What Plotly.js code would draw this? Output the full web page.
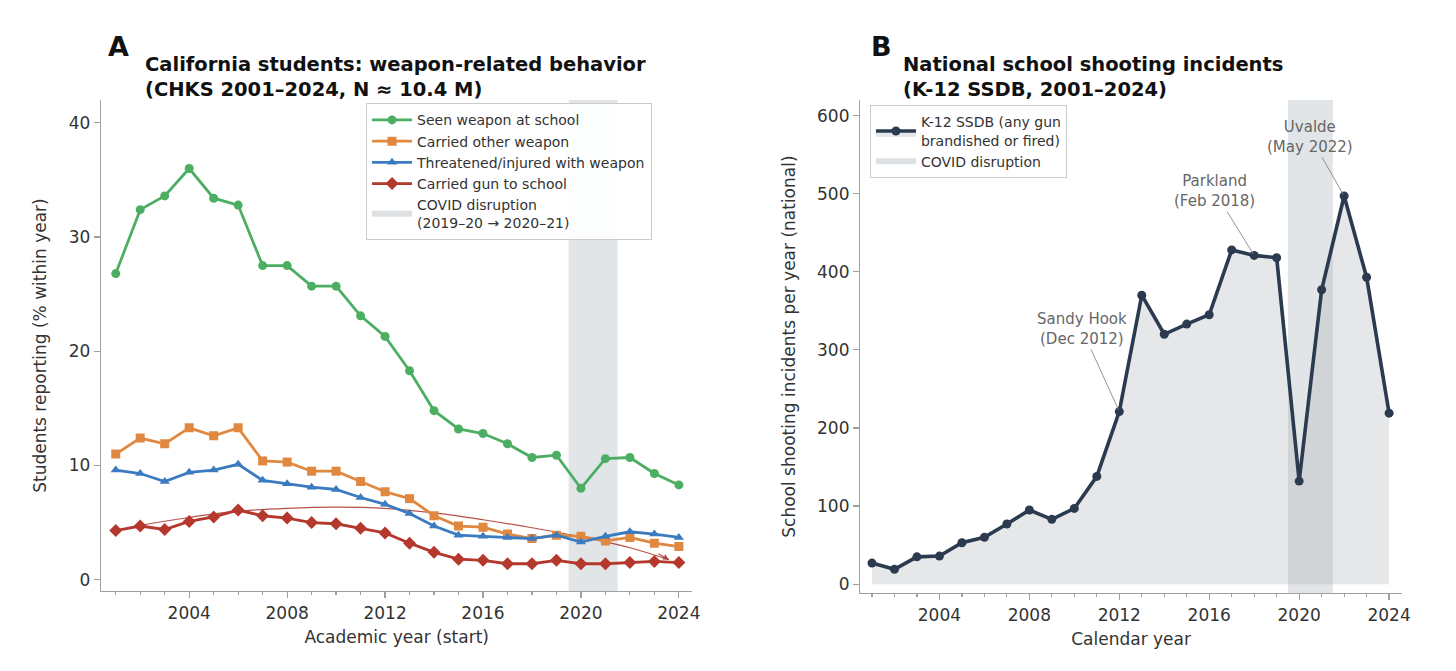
<!DOCTYPE html>
<html>
<head>
<meta charset="utf-8">
<script src="https://cdn.plot.ly/plotly-3.0.1.min.js"></script>
<style>html,body{margin:0;padding:0;background:#fff}#chart{width:1456px;height:671px}</style>
</head>
<body>
<div id="chart"></div>
<script>
// ---- Panel A data (CHKS, % of students) ----
const yearsA = [2001,2002,2003,2004,2005,2006,2007,2008,2009,2010,2011,2012,2013,2014,2015,2016,2017,2018,2019,2020,2021,2022,2023,2024];
const seenWeapon   = [26.8,32.4,33.6,36.0,33.4,32.8,27.5,27.5,25.7,25.7,23.1,21.3,18.3,14.8,13.2,12.8,11.9,10.7,10.9,8.0,10.6,10.7,9.3,8.3];
const carriedOther = [11.0,12.4,11.9,13.3,12.6,13.3,10.4,10.3,9.5,9.5,8.6,7.7,7.1,5.6,4.7,4.6,4.0,3.6,3.9,3.8,3.4,3.7,3.2,2.9];
const threatened   = [9.6,9.3,8.6,9.4,9.6,10.1,8.7,8.4,8.1,7.9,7.2,6.6,5.8,4.7,3.9,3.8,3.7,3.6,3.9,3.3,3.8,4.2,4.0,3.7];
const carriedGun   = [4.3,4.7,4.4,5.1,5.5,6.1,5.6,5.4,5.0,4.9,4.5,4.1,3.2,2.4,1.8,1.7,1.4,1.4,1.7,1.4,1.4,1.5,1.6,1.5];
// curved trend arrow over "carried gun"
const trendX = [2001,2002,2004,2006,2008,2010,2012,2014,2016,2018,2020,2022,2023.6];
const trendY = [4.3,4.75,5.45,6.0,6.25,6.35,6.25,5.85,5.25,4.55,3.75,2.8,1.75];
const namesA = ["Seen weapon at school","Carried other weapon","Threatened/injured with weapon","Carried gun to school"];
const covidA = [2019.5, 2021.5];

// ---- Panel B data (K-12 SSDB incidents per year) ----
const yearsB = [2001,2002,2003,2004,2005,2006,2007,2008,2009,2010,2011,2012,2013,2014,2015,2016,2017,2018,2019,2020,2021,2022,2023,2024];
const incidents = [27,19,35,36,53,60,77,95,83,97,138,221,370,320,333,345,428,421,418,132,377,497,393,219];
const covidB = [2019.5, 2021.5];
const events = [
  {label:"Sandy Hook<br>(Dec 2012)", year:2012, value:221, tx:2010.33, ty:327},
  {label:"Parkland<br>(Feb 2018)",  year:2018, value:421, tx:2016.24, ty:503},
  {label:"Uvalde<br>(May 2022)",    year:2022, value:497, tx:2020.5,  ty:573}
];

const FONT = "DejaVu Sans, Liberation Sans, sans-serif";
const colorsA = ["#4cae62","#e0883f","#3b7bc0","#b5382d"];
const symbolsA = ["circle","square","triangle-up","diamond"];
const navy = "#2b3a4f";
const bandCol = "rgba(160,168,176,0.30)";

const traces = [];
traces.push({x:trendX, y:trendY, xaxis:"x", yaxis:"y", mode:"lines", line:{color:"rgba(170,50,40,0.85)", width:1.2, shape:"spline"}, showlegend:false, hoverinfo:"skip"});
const seriesA = [seenWeapon, carriedOther, threatened, carriedGun];
seriesA.forEach((s,i)=>{
  traces.push({x:yearsA, y:s, xaxis:"x", yaxis:"y", name:namesA[i], mode:"lines+markers",
    line:{color:colorsA[i], width:2.8}, marker:{symbol:symbolsA[i], size:i===3?10:9, color:colorsA[i]},
    legend:"legend"});
});
traces.push({x:[null], y:[null], xaxis:"x", yaxis:"y", name:"COVID disruption<br>(2019–20 → 2020–21)", mode:"none", fill:"toself", fillcolor:"rgba(160,168,176,0.35)", legend:"legend"});

traces.push({x:yearsB, y:incidents, xaxis:"x2", yaxis:"y2", name:"K-12 SSDB (any gun<br>brandished or fired)", mode:"lines+markers",
  fill:"tozeroy", fillcolor:"rgba(160,168,176,0.28)",
  line:{color:navy, width:3.6}, marker:{symbol:"circle", size:9, color:navy}, legend:"legend2"});
traces.push({x:[null], y:[null], xaxis:"x2", yaxis:"y2", name:"COVID disruption", mode:"none", fill:"toself", fillcolor:"rgba(160,168,176,0.35)", legend:"legend2"});

const axisCommon = {showgrid:false, zeroline:false, showline:true, linecolor:"#a0a0a0", linewidth:1.2,
  ticks:"outside", ticklen:6, tickwidth:1.2, tickcolor:"#a0a0a0", tickfont:{family:FONT, size:17, color:"#333"}};

const annotations = [
  {text:"<b>A</b>", xref:"paper", yref:"paper", x:0.0725, y:0.93, xanchor:"left", yanchor:"middle", showarrow:false, font:{family:FONT, size:27, color:"#111"}},
  {text:"<b>California students: weapon-related behavior<br>(CHKS 2001–2024, N ≈ 10.4 M)</b>", xref:"paper", yref:"paper", x:0.0985, y:0.885, xanchor:"left", yanchor:"middle", align:"left", showarrow:false, font:{family:FONT, size:19.5, color:"#111"}},
  {text:"<b>B</b>", xref:"paper", yref:"paper", x:0.5965, y:0.93, xanchor:"left", yanchor:"middle", showarrow:false, font:{family:FONT, size:27, color:"#111"}},
  {text:"<b>National school shooting incidents<br>(K-12 SSDB, 2001–2024)</b>", xref:"paper", yref:"paper", x:0.6185, y:0.885, xanchor:"left", yanchor:"middle", align:"left", showarrow:false, font:{family:FONT, size:19.5, color:"#111"}},
  {text:"", x:2023.6, y:1.75, xref:"x", yref:"y", ax:2023.1, ay:2.35, axref:"x", ayref:"y", showarrow:true, arrowhead:2, arrowsize:1, arrowwidth:1.2, arrowcolor:"rgba(170,50,40,0.85)"}
];
events.forEach(e=>{
  annotations.push({text:e.label, x:e.year, y:e.value, ax:e.tx, ay:e.ty, xref:"x2", yref:"y2", axref:"x2", ayref:"y2",
    showarrow:true, arrowhead:0, arrowwidth:0.9, arrowcolor:"#888", standoff:2, align:"center",
    font:{family:FONT, size:15, color:"#666"}});
});

const layout = {
  width:1456, height:671, margin:{l:0,r:0,t:0,b:0}, paper_bgcolor:"#fff", plot_bgcolor:"rgba(0,0,0,0)",
  font:{family:FONT, color:"#333"},
  xaxis: Object.assign({}, axisCommon, {domain:[0.0694,0.4755], range:[2000.4,2024.55], tick0:2004, dtick:4,
    minor:{tick0:2000, dtick:1, ticks:"outside", ticklen:3, tickcolor:"#a0a0a0"},
    title:{text:"Academic year (start)", font:{family:FONT, size:17, color:"#333"}, standoff:9}, anchor:"y"}),
  yaxis: Object.assign({}, axisCommon, {domain:[0.119,0.851], range:[-1,42], tick0:0, dtick:10,
    title:{text:"Students reporting (% within year)", font:{family:FONT, size:17, color:"#333"}, standoff:17}, anchor:"x"}),
  xaxis2: Object.assign({}, axisCommon, {domain:[0.5907,0.963], range:[2000.47,2024.58], tick0:2004, dtick:4,
    minor:{tick0:2000, dtick:1, ticks:"outside", ticklen:3, tickcolor:"#a0a0a0"},
    title:{text:"Calendar year", font:{family:FONT, size:17, color:"#333"}, standoff:9}, anchor:"y2"}),
  yaxis2: Object.assign({}, axisCommon, {domain:[0.116,0.851], range:[-11.5,620], tick0:0, dtick:100,
    title:{text:"School shooting incidents per year (national)", font:{family:FONT, size:17, color:"#333"}, standoff:17}, anchor:"x2"}),
  shapes:[
    {type:"rect", xref:"x", yref:"y domain", x0:covidA[0], x1:covidA[1], y0:0, y1:1, fillcolor:bandCol, line:{width:0}, layer:"below"},
    {type:"rect", xref:"x2", yref:"y2 domain", x0:covidB[0], x1:covidB[1], y0:0, y1:1, fillcolor:bandCol, line:{width:0}, layer:"below"}
  ],
  legend:{x:0.2514, y:0.846, xanchor:"left", yanchor:"top", bgcolor:"rgba(255,255,255,0.9)", bordercolor:"#cccccc", borderwidth:1,
    font:{family:FONT, size:14, color:"#333"}, tracegroupgap:0, itemwidth:40},
  legend2:{x:0.5975, y:0.843, xanchor:"left", yanchor:"top", bgcolor:"rgba(255,255,255,0.9)", bordercolor:"#cccccc", borderwidth:1,
    font:{family:FONT, size:14, color:"#333"}, tracegroupgap:0, itemwidth:40},
  annotations: annotations
};

Plotly.newPlot("chart", traces, layout, {displayModeBar:false, staticPlot:true});
</script>
</body>
</html>
